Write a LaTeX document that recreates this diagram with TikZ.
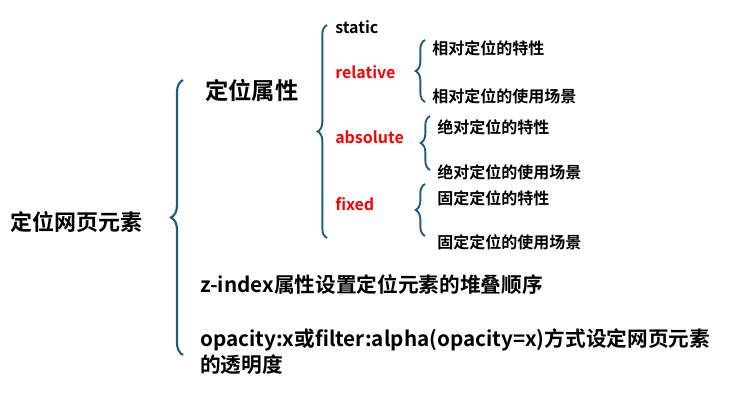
\documentclass[tikz,border=0pt]{standalone}
\usepackage{fontspec}
\setmainfont{Noto Sans CJK SC}[BoldFont={Noto Sans CJK SC Bold}]
\usetikzlibrary{decorations.pathreplacing}
\definecolor{bc}{HTML}{1F5C7A}
\begin{document}
\begin{tikzpicture}[x=1pt,y=-1pt,
  br/.style={draw=bc,line width=1.6pt,decorate,decoration={brace,amplitude=9pt,aspect=0.5}},
  brs/.style={draw=bc,line width=1.4pt,decorate,decoration={brace,amplitude=7pt,aspect=0.5}},
  t/.style={anchor=west,inner sep=0pt,font=\bfseries\fontsize{12}{14}\selectfont},
  tl/.style={anchor=west,inner sep=0pt,font=\bfseries\fontsize{16.5}{19}\selectfont},
  tm/.style={anchor=west,inner sep=0pt,font=\bfseries\fontsize{15.5}{18}\selectfont},
  tr/.style={t,text=red},
  ts/.style={anchor=west,inner sep=0pt,font=\bfseries\fontsize{12}{14}\selectfont}]
\useasboundingbox (0,0) rectangle (562.5,307.5);
\begin{scope}[x=0.75pt,y=-0.75pt]
\node[tl] (root) at (10,222) {定位网页元素};
\coordinate (b1a) at (183,355); \coordinate (b1b) at (183,80);
\draw[br] (b1a) -- (b1b);
\node[tl,font=\bfseries\fontsize{17.5}{20}\selectfont] (dw) at (205,90) {定位属性};
\coordinate (b2a) at (327,238); \coordinate (b2b) at (327,25);
\draw[brs] (b2a) -- (b2b);
\node[t] (st) at (335,27) {static};
\node[tr] (rel) at (335,72) {relative};
\node[tr] (abs) at (335,137) {absolute};
\node[tr] (fix) at (335,204) {fixed};
\coordinate (r1) at (425,102); \coordinate (r2) at (425,40);
\draw[brs] (r1) -- (r2);
\node[ts] (ra) at (432,48) {相对定位的特性};
\node[ts] (rb) at (432,96) {相对定位的使用场景};
\coordinate (a1) at (430,170); \coordinate (a2) at (430,116);
\draw[brs] (a1) -- (a2);
\node[ts] (aa) at (437,127) {绝对定位的特性};
\node[ts] (ab) at (437,172) {绝对定位的使用场景};
\coordinate (f1) at (425,236); \coordinate (f2) at (425,184);
\draw[brs] (f1) -- (f2);
\node[ts] (fa) at (437,198) {固定定位的特性};
\node[ts] (fb) at (437,242) {固定定位的使用场景};
\node[tm] (z) at (200,285) {z-index属性设置定位元素的堆叠顺序};
\node[tm] (o1) at (200,340) {opacity:x或filter:alpha(opacity=x)方式设定网页元素};
\node[tm] (o2) at (200,365) {的透明度};
\end{scope}
\end{tikzpicture}
\end{document}
